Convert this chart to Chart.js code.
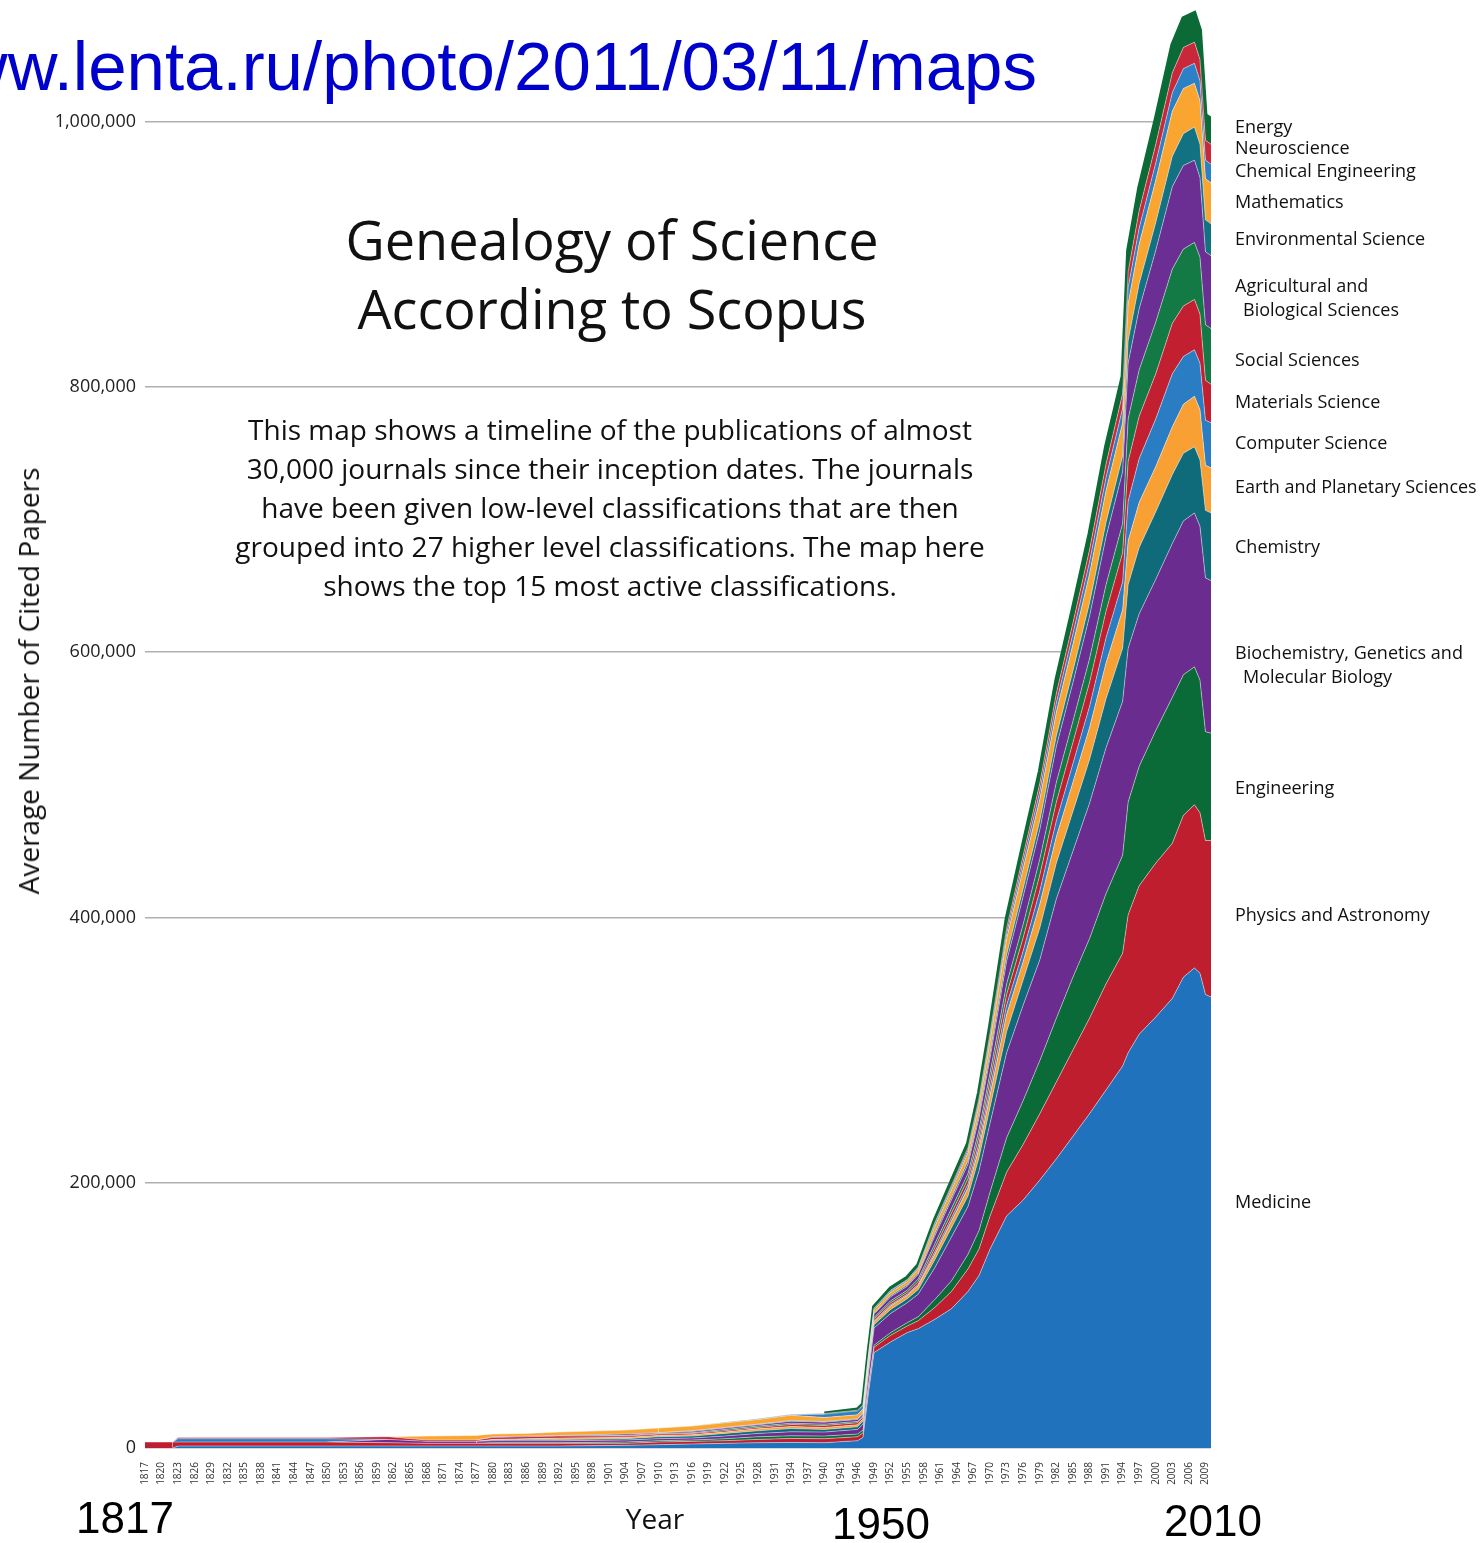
<!DOCTYPE html>
<html>
<head>
<meta charset="utf-8">
<title>Genealogy of Science According to Scopus</title>
<script src="https://cdn.jsdelivr.net/npm/chart.js@4.4.0/dist/chart.umd.min.js"></script>
<style>
  html, body { margin: 0; padding: 0; background: #fff; }
  #wrap { position: relative; width: 1482px; height: 1543px; overflow: hidden; }
  #chartScience { position: absolute; left: 0; top: 0; }
  .txt { position: absolute; white-space: nowrap; font-family: "Open Sans", sans-serif; color: #111; }
  #url { right: 445px; top: 32px; font: 69px/70px "Liberation Sans", Arial, sans-serif; color: #0000cc; }
  #title { left: 612px; top: 205px; transform: translateX(-50%); text-align: center; font-size: 54px; line-height: 69px; }
  #desc { left: 610px; top: 410px; transform: translateX(-50%); text-align: center; font-size: 28px; line-height: 39px; }
  #ytitle { left: 28px; top: 681px; transform: translate(-50%, -50%) rotate(-90deg); font-size: 28px; }
  #xtitle { left: 655px; top: 1518px; transform: translate(-50%, -50%); font-size: 28px; }
  .big { position: absolute; transform: translate(-50%, -50%); font: 44px "Liberation Sans", Arial, sans-serif; color: #000; }
</style>
</head>
<body>
<div id="wrap">
  <canvas id="chartScience" width="1482" height="1543"></canvas>
  <div class="txt" id="url">www.lenta.ru/photo/2011/03/11/maps</div>
  <div class="txt" id="title">Genealogy of Science<br>According to Scopus</div>
  <div class="txt" id="desc">This map shows a timeline of the publications of almost<br>30,000 journals since their inception dates. The journals<br>have been given low-level classifications that are then<br>grouped into 27 higher level classifications. The map here<br>shows the top 15 most active classifications.</div>
  <div class="txt" id="ytitle">Average Number of Cited Papers</div>
  <div class="txt" id="xtitle">Year</div>
  <div class="big" style="left:125px; top:1518px;">1817</div>
  <div class="big" style="left:881px; top:1524px;">1950</div>
  <div class="big" style="left:1213px; top:1521px;">2010</div>
</div>
<script>
// years (x positions of the samples)
const years = [1817, 1822, 1823, 1850, 1861, 1868, 1877, 1880, 1886, 1892,
  1904, 1910, 1916, 1922, 1928, 1934, 1940, 1946, 1947, 1948,
  1949, 1952, 1955, 1957, 1960, 1963, 1966, 1968, 1970, 1973,
  1976, 1979, 1982, 1985, 1988, 1991, 1994, 1995, 1997, 2000,
  2003, 2005, 2007, 2008, 2009, 2010];

// average cited papers per classification, thousands
const medicine    = [0,0,1.5,1.5,1.5, 1.5,1.5,1.5,1.5,1.5, 2,2.5,3,3.5,4, 4.2,4,5.5,8,42, 72,80,87,90,97, 105,118,130,150,175, 187,202,218,235,252, 270,288,298,312,325, 339,355,362,358,342, 340];
const physics     = [4.5,4.5,3,3,2.5, 2,2,2,2,2, 1.5,2,2,2,2.5, 3,3,3,3.5,4, 4,5,5,6,9, 13,17,20,25,33, 42,50,58,65,72, 80,85,104,112,116, 117,122,123,121,116, 118];
const engineering = [0,0,0,0,0, 0,0,0.5,0.5,0.5, 1,1,1,1.5,2, 2,2,2,2,2, 1.5,2,2.5,3,6, 8,11,14,18,26, 33,40,48,55,60, 68,74,85,90,100, 110,106,104,100,82, 81];
const biochem     = [0,0,0,0,2.5, 1.5,1.5,1.5,1.5,1.5, 1.5,1.5,1.5,2,2.5, 3,3,3.5,4.5,8, 13,14.5,15,17,24, 33,36,45,52,64, 72,76,90,95,102, 110,116,116,115,114, 116,116,116,116,116, 115];
const chemistry   = [0,0,0,0,0, 0,0,0.5,1,1, 1,1.5,1.5,2,2, 2.5,2,2,2.5,3, 2.5,3,3,3.5,6, 7,8,10,12,16, 19,24,27,30,33, 37,40,48,50,51, 52,51,50,50,51, 51];
const earth       = [0,0,0,0,0, 0,0,0.5,0.5,1, 1,1,1,1,1.5, 1.5,1.5,1.5,1.5,2, 2,2.5,2.5,3,4, 5,6,7,9,13, 14,18,20,22,24, 27,29,33,34,34, 36,37,38,38,34, 34];
const compsci     = [0,0,2.5,2.5,0, 0,0,0,0,0, 0,0,0,0,0, 0,0,0,0,0.5, 1,1,1,1,2, 2.5,3,4,5,7, 8,10,12,14,16, 19,21,30,33,36, 40,36,35,35,34, 34];
const materials   = [0,0,1,1,2, 1,1,1.5,1.5,1.5, 1,1,1,1,1, 1.5,1.5,1.5,1.5,1.5, 1.5,1.5,1.5,2,3, 3.5,4,5,6,8, 10,12,14,16,18, 20,22,30,32,34, 38,38,38,37,30, 29];
const social      = [0,0,0,0,0, 0,0,0,0,0, 0.5,0.5,0.5,1,1, 1,1,1,1,1, 1,1.5,1.5,2,3, 3.5,4,5,6,8, 10,12,15,16,18, 20,22,32,35,39, 41,43,43,43,42, 42];
const agri        = [0,0,0,0,0, 0,0,0.5,0.5,0.5, 1,0.5,1,1,1, 1.5,1.5,1.5,1.5,2, 2.5,3,3,3.5,6, 6.5,7,9,11,17, 21,22,27,29,32, 36,39,42,46,54, 62,63,62,60,55, 55];
const environ     = [0,0,0,0,0, 0,0,0,0,0, 0,0,0.5,0.5,0.5, 0.5,0.5,0.5,0.5,0.5, 0.5,1,1,1,2, 2,2.5,3,4,5, 6,7,8,9,10, 11,12,17,19,21, 23,24,25,25,24, 24];
const maths       = [0,0,0,0,0, 3,3.5,2,2,2.5, 3,3.5,3.5,3.5,3.5, 4,3,3,3,3, 2.5,2.5,2.5,3,5, 5.5,6,7,9,12, 15,16,18,20,22, 24,25,28,30,32, 34,34,33,33,31, 31];
const chemeng     = [0,0,0,0,0, 0,0,0,0,0, 0,0,0,0.5,0.5, 0.5,2.5,3,2.5,1, 1,1,1,1,2, 2,2,2.5,3,4, 5,6,7,8,9, 10,11,12,12,13, 14,15,15,15,14, 14];
const neuro       = [0,0,0,0,0, 0,0,0,0,0, 0,0,0,0,0, 0.3,0.5,0.5,0.5,0.5, 0.5,0.5,0.5,0.5,1, 1.5,2,2.5,3,4, 5,6,7,8,9, 10,11,12,13,14, 15,16,16,16,15, 15];
const energy      = [0,0,0,0,0, 0,0,0,0,0, 0,0,0,0,0, 0,0,0.5,0.5,1, 1,1.5,1.5,1.5,2, 3,3,4,5,7, 8,9,10,11,12, 13,13,16,17,19, 21,22,22,22,19, 19];

const categories = ["Medicine", "Physics and Astronomy", "Engineering",
  "Biochemistry, Genetics and\n Molecular Biology", "Chemistry", "Earth and Planetary Sciences",
  "Computer Science", "Materials Science", "Social Sciences",
  "Agricultural and\n Biological Sciences", "Environmental Science", "Mathematics",
  "Chemical Engineering", "Neuroscience", "Energy"];
const series = [medicine, physics, engineering, biochem, chemistry, earth, compsci,
  materials, social, agri, environ, maths, chemeng, neuro, energy];

const tickYears = [1817,1820,1823,1826,1829,1832,1835,1838,1841,1844,1847,1850,1853,1856,1859,
  1862,1865,1868,1871,1874,1877,1880,1883,1886,1889,1892,1895,1898,1901,1904,1907,1910,1913,
  1916,1919,1922,1925,1928,1931,1934,1937,1940,1943,1946,1949,1952,1955,1958,1961,1964,1967,
  1970,1973,1976,1979,1982,1985,1988,1991,1994,1997,2000,2003,2006,2009];
const yTicks = [0, 200, 400, 600, 800, 1000];

// styles
const fills = ["#1f72bb", "#be1e2d", "#0b6b38", "#6a2c8f", "#0f6a7a", "#f8a034", "#2a7dc3",
  "#c21f30", "#147a45", "#6b2e93", "#137282", "#f9a530", "#2c80c6", "#c9283a", "#0b6a35"];
const labelNudge = [-20, -3, 2, 9, 1, -3, -1, -1, 4, 7, 0, 0, -2, -5, -4];

// y tick labels and band labels, drawn from the scales
const chartText = {
  id: "chartText",
  afterDraw(chart) {
    const ctx = chart.ctx;
    const y = chart.scales.y;
    ctx.save();
    ctx.font = '18px "Open Sans"';
    ctx.fillStyle = "#222";
    ctx.textBaseline = "middle";
    ctx.textAlign = "right";
    yTicks.forEach(function (v) {
      ctx.fillText((v * 1000).toLocaleString("en-US"), 136, y.getPixelForValue(v));
    });

    ctx.textAlign = "left";
    ctx.fillStyle = "#111";
    const last = years.length - 1;
    let base = 0;
    series.forEach(function (vals, i) {
      const mid = base + vals[last] / 2;
      base += vals[last];
      const py = y.getPixelForValue(mid) + labelNudge[i];
      const lines = categories[i].split("\n");
      if (lines.length === 1) {
        ctx.fillText(lines[0], 1235, py);
      } else {
        ctx.fillText(lines[0], 1235, py - 12);
        ctx.fillText(lines[1].trim(), 1243, py + 12);
      }
    });
    ctx.restore();
  }
};

const ctx = document.getElementById("chartScience").getContext("2d");
const myChart = new Chart(ctx, {
  type: "line",
  data: {
    datasets: series.map(function (vals, i) {
      const isTop = i === series.length - 1;
      const lineColor = isTop ? "#0b6a35" : "rgba(255,255,255,0.45)";
      return {
        label: categories[i],
        data: years.map(function (yr, j) { return { x: yr, y: vals[j] }; }),
        backgroundColor: fills[i],
        borderColor: lineColor,
        borderWidth: isTop ? 4 : 1,
        // no outline where the band is empty
        segment: {
          borderColor: function (c) {
            return (vals[c.p0DataIndex] === 0 && vals[c.p1DataIndex] === 0) ? "rgba(0,0,0,0)" : lineColor;
          }
        },
        fill: i === 0 ? "origin" : "-1",
        pointRadius: 0,
        pointHoverRadius: 0,
        tension: 0
      };
    })
  },
  options: {
    responsive: false,
    animation: false,
    layout: { padding: { left: 0, right: 271, top: 5, bottom: 55 } },
    plugins: {
      legend: { display: false },
      tooltip: { enabled: false }
    },
    scales: {
      x: {
        type: "linear",
        min: 1817,
        max: 2010,
        grid: { display: false },
        border: { display: false },
        afterBuildTicks: function (s) { s.ticks = tickYears.map(function (v) { return { value: v }; }); },
        afterFit: function (s) { s.height = 40; },
        ticks: {
          autoSkip: false,
          minRotation: 90,
          maxRotation: 90,
          padding: 6,
          color: "#333",
          font: { size: 10, family: "Open Sans" },
          callback: function (v) { return String(v); }
        }
      },
      y: {
        stacked: true,
        min: 0,
        max: 1088,
        afterBuildTicks: function (s) { s.ticks = yTicks.map(function (v) { return { value: v }; }); },
        afterFit: function (s) { s.width = 145; },
        grid: { color: "#b0b0b0", lineWidth: 1.5, drawTicks: false },
        border: { display: false },
        ticks: { display: false }
      }
    }
  },
  plugins: [chartText]
});
</script>
</body>
</html>
